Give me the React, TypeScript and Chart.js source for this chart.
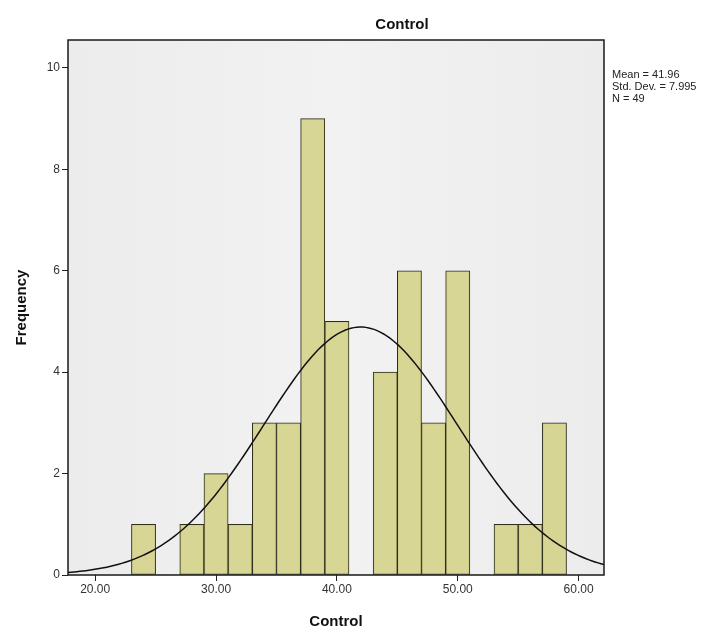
import React, { useEffect, useRef } from "react";
import { Chart, registerables } from "chart.js";

Chart.register(...registerables);

// ---- Data ----
const BIN_STARTS = [23, 25, 27, 29, 31, 33, 35, 37, 39, 41, 43, 45, 47, 49, 51, 53, 55, 57];
const FREQUENCIES = [1, 0, 1, 2, 1, 3, 3, 9, 5, 0, 4, 6, 3, 6, 0, 1, 1, 3];
const BIN_WIDTH = 2;
const X_TICKS = [20, 30, 40, 50, 60];
const Y_TICKS = [0, 2, 4, 6, 8, 10];
const X_MIN = 17.75;
const X_MAX = 62.1;
const Y_MAX = 10.55;
const MEAN = 41.96;
const STD_DEV = 7.995;
const N = 49;
const STATS_LINES = ["Mean = 41.96", "Std. Dev. = 7.995", "N = 49"];
const TITLE = "Control";
const X_TITLE = "Control";
const Y_TITLE = "Frequency";

const FONT = "Arial, 'Liberation Sans', sans-serif";

function normalCurve() {
  const pts: { x: number; y: number }[] = [];
  const steps = 180;
  for (let i = 0; i <= steps; i++) {
    const x = X_MIN + ((X_MAX - X_MIN) * i) / steps;
    const z = (x - MEAN) / STD_DEV;
    const y = (N * BIN_WIDTH * Math.exp(-0.5 * z * z)) / (STD_DEV * Math.sqrt(2 * Math.PI));
    pts.push({ x, y });
  }
  return pts;
}

const framePlugin = {
  id: "spssFrame",
  beforeDraw(chart: any) {
    const { ctx, chartArea: a, width, height } = chart;
    ctx.save();
    ctx.fillStyle = "#ffffff";
    ctx.fillRect(0, 0, width, height);
    const g = ctx.createLinearGradient(a.left, 0, a.right, 0);
    g.addColorStop(0, "#ececec");
    g.addColorStop(0.5, "#f2f2f2");
    g.addColorStop(1, "#ececec");
    ctx.fillStyle = g;
    ctx.fillRect(a.left, a.top, a.right - a.left, a.bottom - a.top);
    ctx.restore();
  },
  afterDatasetsDraw(chart: any) {
    const { ctx, chartArea: a } = chart;
    ctx.save();
    ctx.strokeStyle = "#1a1a1a";
    ctx.lineWidth = 1.5;
    ctx.strokeRect(a.left, a.top, a.right - a.left, a.bottom - a.top);
    ctx.restore();
  },
  afterDraw(chart: any) {
    const { ctx, chartArea: a } = chart;
    ctx.save();
    ctx.fillStyle = "#111";
    ctx.font = `bold 15px ${FONT}`;
    ctx.textAlign = "center";
    ctx.textBaseline = "middle";
    ctx.fillText(TITLE, 402, 25);
    ctx.font = `11px ${FONT}`;
    ctx.textAlign = "left";
    ctx.fillStyle = "#222";
    STATS_LINES.forEach((t, i) => ctx.fillText(t, a.right + 8, 75 + i * 12));
    ctx.restore();
  },
};

export default function App() {
  const ref = useRef<HTMLCanvasElement | null>(null);
  useEffect(() => {
    if (!ref.current) return;
    const bars = BIN_STARTS.map((s, i) => ({ x: s + BIN_WIDTH / 2, y: FREQUENCIES[i] }));
    const chart = new Chart(ref.current, {
      type: "bar",
      data: {
        datasets: [
          {
            type: "line",
            data: normalCurve(),
            borderColor: "#111",
            borderWidth: 1.5,
            pointRadius: 0,
            tension: 0,
            fill: false,
            order: 0,
          } as any,
          {
            type: "bar",
            data: bars,
            backgroundColor: "rgba(214, 212, 142, 0.95)",
            borderColor: "#2e2e1c",
            borderWidth: (c: any) => (c.raw && c.raw.y > 0 ? 1 : 0),
            borderSkipped: false,
            barPercentage: 1,
            categoryPercentage: 1,
            order: 1,
          } as any,
        ],
      },
      options: {
        animation: false,
        responsive: true,
        maintainAspectRatio: false,
        layout: { padding: { top: 40, right: 118, left: 0, bottom: 0 } },
        plugins: { legend: { display: false }, tooltip: { enabled: false }, title: { display: false } },
        scales: {
          x: {
            type: "linear",
            offset: false,
            min: X_MIN,
            max: X_MAX,
            afterBuildTicks: (s: any) => {
              s.ticks = X_TICKS.map((v) => ({ value: v }));
            },
            afterFit: (s: any) => {
              s.height = 58;
            },
            ticks: {
              font: { family: FONT, size: 12 },
              color: "#333",
              padding: 1,
              callback: (v: any) => Number(v).toFixed(2),
            },
            grid: { offset: false, drawOnChartArea: false, drawTicks: true, tickLength: 6, color: "#222" },
            border: { display: false },
            title: {
              display: true,
              text: X_TITLE,
              font: { family: FONT, size: 15, weight: "bold" },
              color: "#111",
              padding: { top: 4, bottom: 2 },
            },
          },
          y: {
            type: "linear",
            min: 0,
            max: Y_MAX,
            afterBuildTicks: (s: any) => {
              s.ticks = Y_TICKS.map((v) => ({ value: v }));
            },
            afterFit: (s: any) => {
              s.width = 68;
            },
            ticks: {
              font: { family: FONT, size: 12 },
              color: "#333",
              padding: 2,
            },
            grid: { drawOnChartArea: false, drawTicks: true, tickLength: 6, color: "#222" },
            border: { display: false },
            title: {
              display: true,
              text: Y_TITLE,
              font: { family: FONT, size: 15, weight: "bold" },
              color: "#111",
              padding: { top: 13, bottom: 4 },
            },
          },
        },
      } as any,
      plugins: [framePlugin],
    });
    return () => chart.destroy();
  }, []);

  return (
    <div style={{ position: "fixed", left: 0, top: 0, width: 722, height: 633, background: "#fff" }}>
      <canvas ref={ref} />
    </div>
  );
}
